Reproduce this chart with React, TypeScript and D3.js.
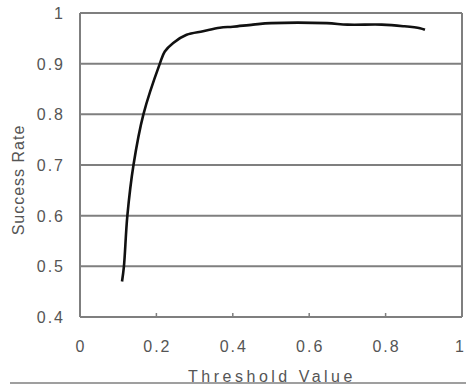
import React from 'react';
import * as d3 from 'd3';

// values
const thresholds = [0.11, 0.115, 0.124, 0.14, 0.166, 0.209, 0.222, 0.244, 0.279, 0.322, 0.366, 0.4, 0.453, 0.5, 0.646, 0.7, 0.79, 0.846, 0.89, 0.903];
const successRates = [0.47, 0.5, 0.6, 0.7, 0.8, 0.9, 0.924, 0.941, 0.957, 0.964, 0.971, 0.973, 0.977, 0.98, 0.98, 0.977, 0.977, 0.974, 0.97, 0.967];
const xTicks = [0, 0.2, 0.4, 0.6, 0.8, 1];
const xTickLabels = ['0', '0.2', '0.4', '0.6', '0.8', '1'];
const yTicks = [0.4, 0.5, 0.6, 0.7, 0.8, 0.9, 1];
const yTickLabels = ['0.4', '0.5', '0.6', '0.7', '0.8', '0.9', '1'];

const App = () => {
    const width = 466;
    const height = 387;
    const margin = {top: 13, right: 4, bottom: 70, left: 80};

    const x = d3.scaleLinear().domain([0, 1]).range([margin.left, width - margin.right]);
    const y = d3.scaleLinear().domain([0.4, 1]).range([height - margin.bottom, margin.top]);

    const points = thresholds.map((t, i) => [t, successRates[i]]);
    const line = d3
        .line()
        .x((d) => x(d[0]))
        .y((d) => y(d[1]))
        .curve(d3.curveCatmullRom.alpha(0.5));

    const gray = '#7f7f7f';
    const textColor = '#555';
    const font = 'Liberation Sans, Arial, sans-serif';

    return (
        <svg width={width} height={height} style={{position: 'absolute', left: 0, top: 0}}>
            <rect width={width} height={height} fill="#fff" />
            {/* grid lines */}
            {yTicks.map((t) => (
                <line key={t} x1={x(0)} x2={x(1)} y1={y(t)} y2={y(t)} stroke={gray} strokeWidth={2} />
            ))}
            {/* frame */}
            <line x1={x(0)} x2={x(0)} y1={y(0.4)} y2={y(1)} stroke={gray} strokeWidth={2} />
            <line x1={x(1)} x2={x(1)} y1={y(0.4)} y2={y(1)} stroke={gray} strokeWidth={2} />
            {/* x ticks */}
            {xTicks.map((t) => (
                <line key={t} x1={x(t)} x2={x(t)} y1={y(0.4)} y2={y(0.4) - 4} stroke={gray} strokeWidth={1.5} />
            ))}
            {/* data line */}
            <path d={line(points)} fill="none" stroke="#111" strokeWidth={2.6} strokeLinejoin="round" />
            {/* y tick labels */}
            {yTicks.map((t, i) => (
                <text
                    key={t}
                    x={65}
                    y={y(t) + 6}
                    textAnchor="end"
                    fontFamily={font}
                    fontSize={16}
                    letterSpacing={2}
                    fill={textColor}
                >
                    {yTickLabels[i]}
                </text>
            ))}
            {/* x tick labels (last one kept inside the picture) */}
            {xTicks.map((t, i) => {
                const last = i === xTicks.length - 1;
                return (
                    <text
                        key={t}
                        x={last ? width : x(t) + 1}
                        y={352}
                        textAnchor={last ? 'end' : 'middle'}
                        fontFamily={font}
                        fontSize={16}
                        letterSpacing={2}
                        fill={textColor}
                    >
                        {xTickLabels[i]}
                    </text>
                );
            })}
            <text
                x={272}
                y={382}
                textAnchor="middle"
                fontFamily={font}
                fontSize={16}
                letterSpacing={3.5}
                fill={textColor}
            >
                Threshold Value
            </text>
            <text
                transform="translate(24,180) rotate(-90)"
                textAnchor="middle"
                fontFamily={font}
                fontSize={16}
                letterSpacing={1}
                fill={textColor}
            >
                Success Rate
            </text>
            <line x1={10} x2={466} y1={383} y2={383} stroke={gray} strokeWidth={1.5} />
        </svg>
    );
};

export default App;
